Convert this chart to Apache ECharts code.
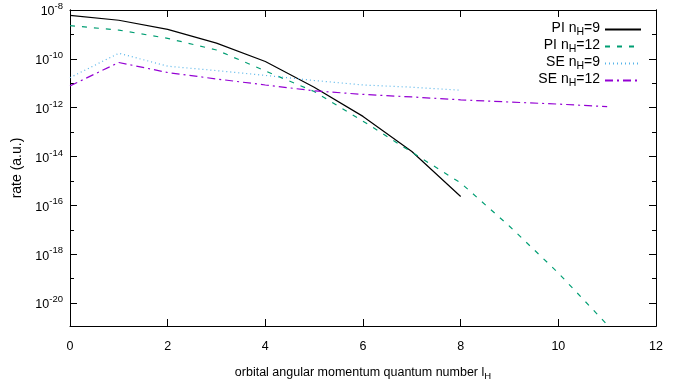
<!DOCTYPE html>
<html><head><meta charset="utf-8">
<script src="https://cdn.jsdelivr.net/npm/echarts@6/dist/echarts.min.js"></script>
<style>html,body{margin:0;padding:0;background:#fff}#c{width:685px;height:386px}</style>
</head><body><div id="c"></div>
<script>
// angular momentum quantum number l_H
const lValues = [0,1,2,3,4,5,6,7,8,9,10,11];
// rates (a.u.)
const piN9  = [6.0e-9, 3.8e-9, 1.6e-9, 4.4e-10, 7.8e-11, 6.9e-12, 4.4e-13, 1.6e-14, 2.3e-16];
const piN12 = [2.3e-9, 1.5e-9, 6.9e-10, 2.3e-10, 3.2e-11, 4.6e-12, 2.8e-13, 1.5e-14, 8.3e-16, 1.4e-17, 1.7e-19, 1.3e-21];
const seN9  = [1.7e-11, 1.7e-10, 5.0e-11, 3.3e-11, 2.1e-11, 1.3e-11, 8.5e-12, 6.9e-12, 5.2e-12];
const seN12 = [7.8e-12, 7.1e-11, 2.75e-11, 1.5e-11, 8.5e-12, 4.9e-12, 3.5e-12, 2.75e-12, 2.1e-12, 1.7e-12, 1.4e-12, 1.1e-12];
const seriesNames = ['PI nH=9','PI nH=12','SE nH=9','SE nH=12'];
const legendLabels = {
  'PI nH=9':  '{a|PI n}{s|H}{a|=9}',
  'PI nH=12': '{a|PI n}{s|H}{a|=12}',
  'SE nH=9':  '{a|SE n}{s|H}{a|=9}',
  'SE nH=12': '{a|SE n}{s|H}{a|=12}'
};
// y tick exponents (decades)
const yMajorExp = [-20,-18,-16,-14,-12,-10,-8];
const yMinorExp = [-21,-19,-17,-15,-13,-11,-9];
const yMinExp = -20.94, yMaxExp = -8;

const FONT = '"Liberation Sans", Arial, sans-serif';
const FS = 12.5;
const toPts = arr => arr.map((v,i)=>[lValues[i], Math.log10(v)]);

const axisLine = {show:true, lineStyle:{color:'#000', width:1}};
function yAx(pos, ticks, len, labels){
  return {
    type:'value', position:pos, min:yMinExp, max:yMaxExp,
    axisLine, splitLine:{show:false},
    axisTick:{show:true, inside:true, length:len, customValues:ticks, lineStyle:{color:'#000',width:1}},
    axisLabel: labels ? {
      show:true, customValues:ticks, margin:7, fontFamily:FONT,
      formatter: v => '{b|10}{s|' + Math.round(v) + '}',
      rich:{
        b:{fontSize:FS, fontFamily:FONT, color:'#000', lineHeight:17, verticalAlign:'bottom'},
        s:{fontSize:9.5, fontFamily:FONT, color:'#000', lineHeight:17, verticalAlign:'top'}
      }
    } : {show:false},
    name: labels && pos==='left' ? 'rate (a.u.)' : '',
    nameLocation:'middle', nameGap:44, nameRotate:90,
    nameTextStyle:{fontFamily:FONT, fontSize:14, color:'#000'}
  };
}
function xAx(pos, labels){
  return {
    type:'value', position:pos, min:0, max:12, interval:2,
    axisLine, splitLine:{show:false},
    axisTick:{show:true, inside:true, length:7, lineStyle:{color:'#000',width:1}},
    axisLabel:{show:labels, margin:14, fontFamily:FONT, fontSize:FS, color:'#000'},
    name: labels ? '{a|orbital angular momentum quantum number l}{s|H}' : '',
    nameLocation:'middle', nameGap:40,
    nameTextStyle:{fontFamily:FONT, fontSize:FS, color:'#000',
      rich:{a:{fontFamily:FONT,fontSize:FS,color:'#000',lineHeight:15,verticalAlign:'top'},
            s:{fontFamily:FONT,fontSize:9.5,color:'#000',lineHeight:15,verticalAlign:'bottom'}}}
  };
}
const styles = [
  {color:'#000000', type:'solid'},
  {color:'#009e73', type:[5,7]},
  {color:'#56b4e9', type:[1,3]},
  {color:'#9400d3', type:[8,4,2,4]}
];
const dataSets = [piN9, piN12, seN9, seN12];

const chart = echarts.init(document.getElementById('c'), null, {renderer:'canvas'});
chart.setOption({
  animation:false,
  backgroundColor:'#fff',
  grid:{left:70, right:29, top:10, bottom:59, containLabel:false},
  xAxis:[xAx('bottom', true), xAx('top', false)],
  yAxis:[yAx('left', yMajorExp, 7, true), yAx('left', yMinorExp, 4, false),
         yAx('right', yMajorExp, 7, false), yAx('right', yMinorExp, 4, false)],
  legend:{
    orient:'vertical', right:38, top:16, align:'right',
    itemWidth:36, itemHeight:12, itemGap:0,
    data: seriesNames,
    itemStyle:{opacity:0},
    formatter: n => legendLabels[n],
    textStyle:{fontFamily:FONT, fontSize:14, color:'#000',
      rich:{a:{fontFamily:FONT,fontSize:14,color:'#000',lineHeight:17,verticalAlign:'top'},
            s:{fontFamily:FONT,fontSize:10.5,color:'#000',lineHeight:17,verticalAlign:'bottom'}}}
  },
  series: dataSets.map((d,i)=>({
    name: seriesNames[i], type:'line', xAxisIndex:0, yAxisIndex:0,
    data: toPts(d), showSymbol:false, symbol:'none', clip:true,
    color: styles[i].color,
    lineStyle:{color:styles[i].color, width:1.2, type:styles[i].type}
  }))
});
</script></body></html>
